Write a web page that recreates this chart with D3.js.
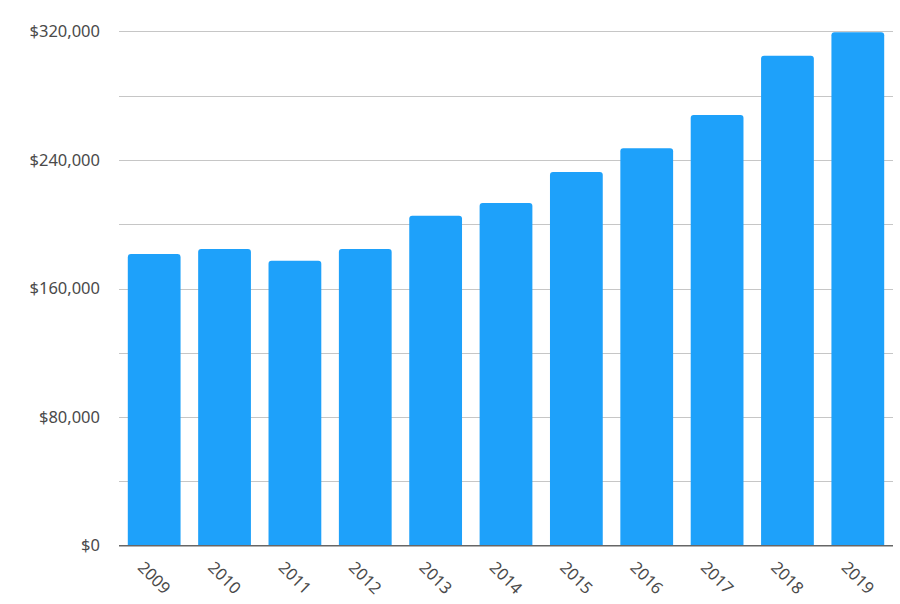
<!DOCTYPE html>
<html><head><meta charset="utf-8">
<script src="https://cdn.jsdelivr.net/npm/d3@7"></script>
<style>body{margin:0;background:#fff}svg{display:block}</style>
</head><body><svg id="c" width="900" height="604"></svg>
<script>
const years = ["2009","2010","2011","2012","2013","2014","2015","2016","2017","2018","2019"];
const values = [181500,184600,177300,184600,205300,213200,232500,247200,267900,304800,319400];
const yTicks = [0,40000,80000,120000,160000,200000,240000,280000,320000];
const yLabelTicks = [0,80000,160000,240000,320000];

(function(){
const svg = d3.select("#c");
const mL = 119, mR = 893, mT = 31.3, mB = 545.7;
const x = d3.scaleBand().domain(years).range([mL,mR]).paddingInner(0.25).paddingOuter(0.125);
const y = d3.scaleLinear().domain([0,320000]).range([mB,mT]);
const font = "'Noto Sans', 'Open Sans', sans-serif";

svg.append("g").selectAll("line").data(yTicks.filter(d=>d>0)).join("line")
  .attr("x1",mL).attr("x2",mR).attr("y1",d=>Math.round(y(d))+0.5).attr("y2",d=>Math.round(y(d))+0.5)
  .attr("stroke","#c6c6c6").attr("stroke-width",1.2);

const fmt = d => "$" + d3.format(",")(d);
svg.append("g").selectAll("text").data(yLabelTicks).join("text")
  .attr("x",100).attr("y",d=>y(d)).attr("dy","0.35em").attr("text-anchor","end")
  .attr("font-family",font).attr("font-size",16.5).attr("fill","#4a4a4a")
  .text(fmt);

const r = 3;
svg.append("g").selectAll("path").data(years.map((yr,i)=>({yr,v:values[i]}))).join("path")
  .attr("fill","#1ea1fa")
  .attr("d",d=>{
    const x0 = x(d.yr), w = x.bandwidth(), y0 = y(d.v), y1 = y(0);
    return `M${x0},${y1}V${y0+r}Q${x0},${y0} ${x0+r},${y0}H${x0+w-r}Q${x0+w},${y0} ${x0+w},${y0+r}V${y1}Z`;
  });

svg.append("line").attr("x1",mL).attr("x2",mR).attr("y1",mB).attr("y2",mB)
  .attr("stroke","#666").attr("stroke-width",1.5);

svg.append("g").selectAll("text").data(years).join("text")
  .attr("transform",d=>`translate(${x(d)+x.bandwidth()/2},${mB+32}) rotate(45)`)
  .attr("text-anchor","middle").attr("dy","0.35em")
  .attr("font-family",font).attr("font-size",16.5).attr("fill","#4a4a4a")
  .text(d=>d);
})();
</script></body></html>
